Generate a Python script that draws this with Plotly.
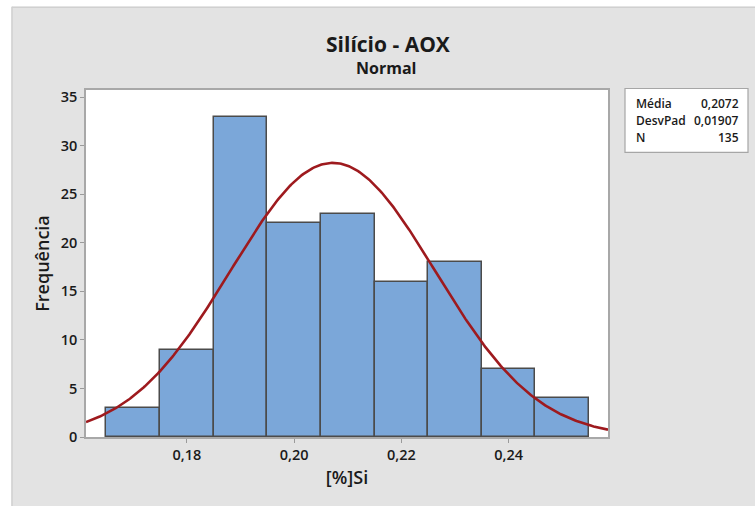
import numpy as np
import plotly.graph_objects as go

# Data
bin_edges = [0.165, 0.175, 0.185, 0.195, 0.205, 0.215, 0.225, 0.235, 0.245, 0.255]
counts = [3, 9, 33, 22, 23, 16, 18, 7, 4]
mean_val = 0.2072
sd_val = 0.01907
n_obs = 135
x_ticks = [0.18, 0.20, 0.22, 0.24]
x_ticklabels = ["0,18", "0,20", "0,22", "0,24"]
y_ticks = [0, 5, 10, 15, 20, 25, 30, 35]
stats_labels = ["Média", "DesvPad", "N"]
stats_values = ["0,2072", "0,01907", "135"]

W, H = 755, 506
L, R, T, B = 86, 755 - 608, 89.5, 506 - 437.5
PW, PH = W - L - R, H - T - B
xr = [0.16118, 0.25854]
yr = [0, 35.75]

def px(xp):
    return (xp - L) / PW

def py(yp):
    return 1 - (yp - T) / PH

centers = [(a + b) / 2 for a, b in zip(bin_edges[:-1], bin_edges[1:])]
widths = [b - a for a, b in zip(bin_edges[:-1], bin_edges[1:])]
binw = widths[0]

xs = np.linspace(xr[0], xr[1], 400)
ys = n_obs * binw * np.exp(-0.5 * ((xs - mean_val) / sd_val) ** 2) / (sd_val * np.sqrt(2 * np.pi))

FONT = "Open Sans"
TXT = "#1a1a1a"

fig = go.Figure()
fig.add_trace(go.Bar(
    x=centers, y=counts, width=widths,
    marker=dict(color="#7ba7d9", line=dict(color="#4b4b4b", width=1.5)),
    hoverinfo="skip", showlegend=False,
))
fig.add_trace(go.Scatter(
    x=xs, y=ys, mode="lines",
    line=dict(color="#9e1a1e", width=2.6),
    hoverinfo="skip", showlegend=False, cliponaxis=True,
))

shapes = [
    dict(type="rect", xref="paper", yref="paper", x0=px(-5), x1=px(W + 5), y0=py(-5), y1=py(6),
         fillcolor="white", line=dict(width=0), layer="below"),
    dict(type="rect", xref="paper", yref="paper", x0=px(-5), x1=px(11.5), y0=py(-5), y1=py(H + 5),
         fillcolor="white", line=dict(width=0), layer="below"),
    dict(type="line", xref="paper", yref="paper", x0=px(12), x1=px(12), y0=py(6), y1=py(H + 5),
         line=dict(color="#d0d0d0", width=1.5), layer="below"),
    dict(type="line", xref="paper", yref="paper", x0=px(12), x1=px(W + 5), y0=py(6.5), y1=py(6.5),
         line=dict(color="#d0d0d0", width=1.5), layer="below"),
    dict(type="rect", xref="paper", yref="paper", x0=px(625), x1=px(748), y0=py(88), y1=py(152),
         fillcolor="white", line=dict(color="#a6a6a6", width=1.2)),
]

annotations = [
    dict(text="<b>Silício - AOX</b>", xref="paper", yref="paper", x=px(388), y=py(43),
         xanchor="center", yanchor="middle", showarrow=False,
         font=dict(family=FONT, size=21, color=TXT)),
    dict(text="<b>Normal</b>", xref="paper", yref="paper", x=px(386), y=py(67),
         xanchor="center", yanchor="middle", showarrow=False,
         font=dict(family=FONT, size=16, color=TXT)),
]
rows_y = [103, 120, 137]
for lab, val, yy in zip(stats_labels, stats_values, rows_y):
    annotations.append(dict(text=lab, xref="paper", yref="paper", x=px(634), y=py(yy),
                            xanchor="left", yanchor="middle", showarrow=False,
                            font=dict(family=FONT, size=12, color=TXT, weight=600)))
    annotations.append(dict(text=val, xref="paper", yref="paper", x=px(741), y=py(yy),
                            xanchor="right", yanchor="middle", showarrow=False,
                            font=dict(family=FONT, size=12, color=TXT, weight=600)))

fig.update_layout(
    width=W, height=H,
    margin=dict(l=L, r=R, t=T, b=B, pad=0),
    paper_bgcolor="#e3e3e3", plot_bgcolor="white",
    bargap=0,
    shapes=shapes, annotations=annotations,
    xaxis=dict(range=xr, tickvals=x_ticks, ticktext=x_ticklabels,
               showgrid=False, zeroline=False, showline=True, linecolor="#a8a8a8", linewidth=1.5,
               mirror=True, ticks="outside", ticklen=4, tickcolor="#9a9a9a", tickwidth=1,
               tickfont=dict(family=FONT, size=14.5, color=TXT, weight=600),
               title=dict(text="[%]Si", font=dict(family=FONT, size=18, color=TXT, weight=600), standoff=8)),
    yaxis=dict(range=yr, tickvals=y_ticks,
               showgrid=False, zeroline=False, showline=True, linecolor="#a8a8a8", linewidth=1.5,
               mirror=True, ticks="outside", ticklen=4, tickcolor="#9a9a9a", tickwidth=1,
               tickfont=dict(family=FONT, size=14.5, color=TXT, weight=600),
               title=dict(text="Frequência", font=dict(family=FONT, size=18, color=TXT, weight=600), standoff=6)),
)

fig.write_html("out.html")
